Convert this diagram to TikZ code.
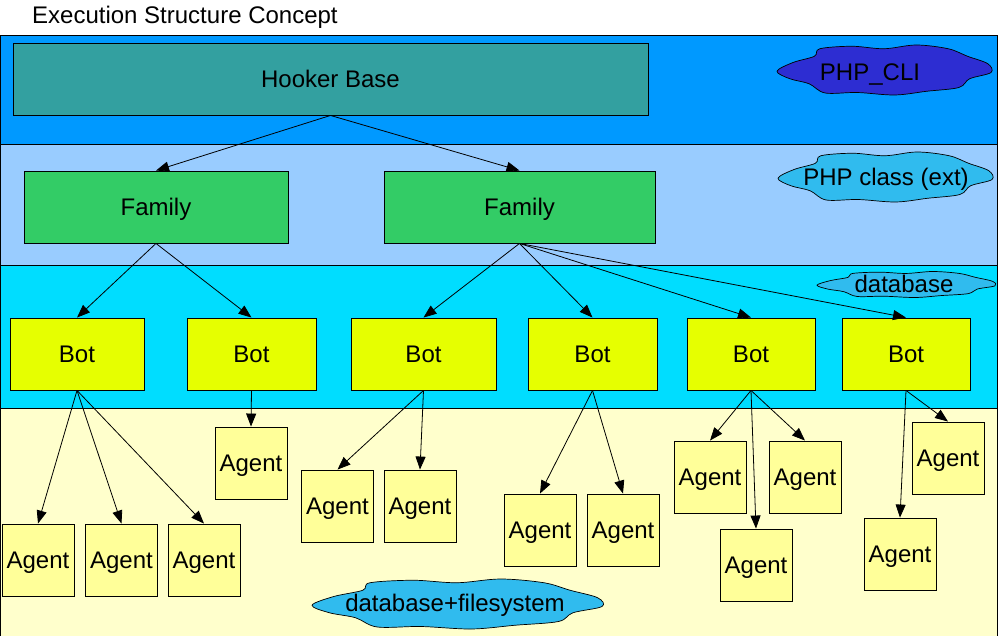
\documentclass[tikz,border=0pt]{standalone}
\usepackage{fontspec}
\setmainfont{Liberation Sans}
\usetikzlibrary{arrows.meta}
\definecolor{bandA}{HTML}{0099FF}
\definecolor{bandB}{HTML}{99CCFF}
\definecolor{bandC}{HTML}{00DDFF}
\definecolor{bandD}{HTML}{FFFFCC}
\definecolor{baseC}{HTML}{33A0A0}
\definecolor{famC}{HTML}{33CC66}
\definecolor{botC}{HTML}{E6FF00}
\definecolor{agentC}{HTML}{FFFF99}
\definecolor{cliC}{HTML}{2D2DD2}
\definecolor{cloudC}{HTML}{30BBEE}
\newcommand{\myCloud}[5]{% name, cx, cy, half width, half height, fill via scope option
  \begin{scope}[shift={(#2,#3)}, xscale=#4, yscale=#5]
    \coordinate (#1) at (0,0);
    \filldraw[cloudline] plot[smooth cycle, tension=0.55] coordinates {
      (-1.00,0.05) (-0.85,-0.30) (-0.65,-0.55) (-0.60,-0.85) (-0.30,-0.95)
      (0.00,-0.85) (0.30,-1.00) (0.60,-0.85) (0.78,-0.55) (0.97,-0.25)
      (1.00,0.10) (0.80,0.35) (0.70,0.70) (0.40,0.85) (0.10,1.00)
      (-0.25,0.90) (-0.55,0.92) (-0.70,0.55) (-0.88,0.35)};
  \end{scope}}
\tikzset{
  band/.style={draw=black, line width=0.9pt},
  box/.style={draw=black, line width=0.9pt, inner sep=0pt, text height=17pt, text depth=0pt, font=\fontsize{24}{28}\selectfont},
  basebox/.style={box, fill=baseC, minimum width=635pt, minimum height=72pt},
  fambox/.style={box, fill=famC, minimum height=72pt},
  botbox/.style={box, fill=botC, minimum height=72pt},
  agentbox/.style={box, fill=agentC, minimum width=72pt, minimum height=72pt},
  cloudline/.style={draw=black, line width=0.7pt},
  cloudtext/.style={inner sep=0pt, text height=17pt, text depth=0pt, font=\fontsize{24}{28}\selectfont},
  arr/.style={line width=0.8pt, -{Triangle[length=13pt,width=10pt]}}
}
\begin{document}
\begin{tikzpicture}[x=1pt,y=-1pt]
\useasboundingbox (0,0) rectangle (998,636);
% bands
\fill[white] (0,0) rectangle (998,636);
\filldraw[band, fill=bandA] (0.5,35) rectangle (997.5,144);
\filldraw[band, fill=bandB] (0.5,144) rectangle (997.5,265);
\filldraw[band, fill=bandC] (0.5,265) rectangle (997.5,408);
\filldraw[band, fill=bandD] (0.5,408) rectangle (997.5,640);
% title
\node[anchor=base west, inner sep=0pt, font=\fontsize{24}{28}\selectfont] (title) at (32,24) {Execution Structure Concept};
% clouds
\tikzset{cloudline/.append style={fill=cliC}}
\myCloud{cli}{884}{70}{107}{25}
\tikzset{cloudline/.style={draw=black, line width=0.7pt, fill=cloudC}}
\myCloud{cls}{885}{177}{107}{25}
\myCloud{db}{906}{284.5}{89}{13}
\myCloud{dbfs}{457}{604}{145}{25}
\node[cloudtext] (clit) at (870,72) {PHP\_CLI};
\node[cloudtext] (clst) at (886,177) {PHP class (ext)};
\node[cloudtext] (dbt) at (904,284) {database};
\node[cloudtext] (dbfst) at (455,603) {database+filesystem};
% boxes
\node[basebox] (hb) at (330.5,79) {Hooker Base};
\node[fambox, minimum width=264pt] (f1) at (156,207) {Family};
\node[fambox, minimum width=271pt] (f2) at (519.5,207) {Family};
\node[botbox, minimum width=134pt] (b1) at (77,354) {Bot};
\node[botbox, minimum width=129pt] (b2) at (251.5,354) {Bot};
\node[botbox, minimum width=145pt] (b3) at (423.5,354) {Bot};
\node[botbox, minimum width=129pt] (b4) at (592.5,354) {Bot};
\node[botbox, minimum width=128pt] (b5) at (751,354) {Bot};
\node[botbox, minimum width=128pt] (b6) at (906,354) {Bot};
\node[agentbox] (a1) at (38,560) {Agent};
\node[agentbox] (a2) at (121.5,560) {Agent};
\node[agentbox] (a3) at (204,560) {Agent};
\node[agentbox] (a4) at (251,463) {Agent};
\node[agentbox] (a5) at (337.5,506) {Agent};
\node[agentbox] (a6) at (420,506) {Agent};
\node[agentbox] (a7) at (540,530) {Agent};
\node[agentbox] (a8) at (623,530) {Agent};
\node[agentbox] (a9) at (710,477) {Agent};
\node[agentbox] (a10) at (805,477) {Agent};
\node[agentbox] (a11) at (756,565) {Agent};
\node[agentbox] (a12) at (948,458) {Agent};
\node[agentbox] (a13) at (900,554) {Agent};
% connectors
\draw[arr] (hb.south) -- (f1.north);
\draw[arr] (hb.south) -- (f2.north);
\draw[arr] (f1.south) -- (b1.north);
\draw[arr] (f1.south) -- (b2.north);
\draw[arr] (f2.south) -- (b3.north);
\draw[arr] (f2.south) -- (b4.north);
\draw[arr] (f2.south) -- (b5.north);
\draw[arr] (f2.south) -- (b6.north);
\draw[arr] (b1.south) -- (a1.north);
\draw[arr] (b1.south) -- (a2.north);
\draw[arr] (b1.south) -- (a3.north);
\draw[arr] (b2.south) -- (a4.north);
\draw[arr] (b3.south) -- (a5.north);
\draw[arr] (b3.south) -- (a6.north);
\draw[arr] (b4.south) -- (a7.north);
\draw[arr] (b4.south) -- (a8.north);
\draw[arr] (b5.south) -- (a9.north);
\draw[arr] (b5.south) -- (a10.north);
\draw[arr] (b5.south) -- (a11.north);
\draw[arr] (b6.south) -- (a12.north);
\draw[arr] (b6.south) -- (a13.north);
\end{tikzpicture}
\end{document}
